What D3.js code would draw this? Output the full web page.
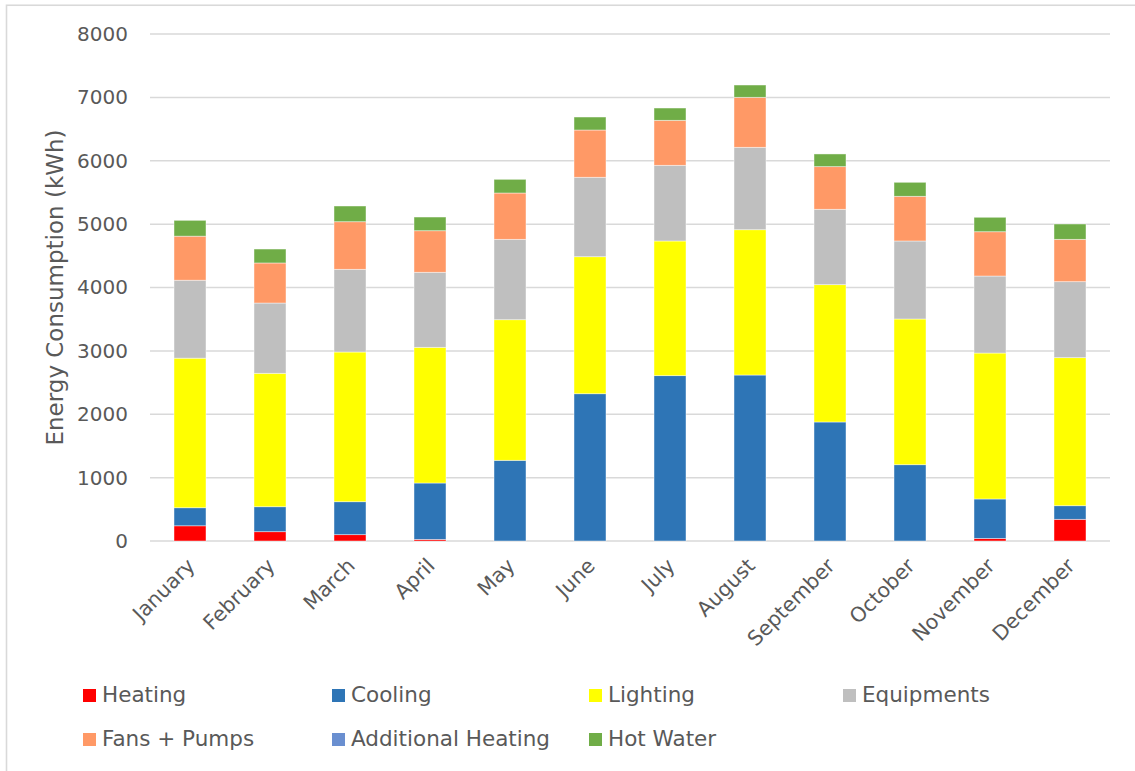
<!DOCTYPE html>
<html>
<head>
<meta charset="utf-8">
<script src="https://cdn.jsdelivr.net/npm/d3@7/dist/d3.min.js"></script>
<style>
  html, body { margin: 0; padding: 0; background: #fff; }
  svg { display: block; font-family: "DejaVu Sans", Verdana, sans-serif; }
</style>
</head>
<body>
<svg id="chart" width="1135" height="771"></svg>
<script>
// Monthly energy consumption by end use (kWh)
const months = ["January", "February", "March", "April", "May", "June",
                "July", "August", "September", "October", "November", "December"];

const heating            = [240, 147, 100, 25, 0, 0, 0, 0, 0, 0, 40, 342];
const cooling            = [285, 394, 520, 890, 1273, 2324, 2609, 2619, 1878, 1204, 623, 215];
const lighting           = [2360, 2105, 2362, 2141, 2219, 2162, 2125, 2293, 2167, 2299, 2303, 2336];
const equipments         = [1230, 1109, 1305, 1184, 1268, 1253, 1194, 1300, 1189, 1231, 1215, 1199];
const fansPumps          = [695, 632, 751, 656, 731, 746, 710, 789, 673, 705, 699, 668];
const additionalHeating  = [0, 0, 0, 0, 0, 0, 0, 0, 0, 0, 0, 0];
const hotWater           = [250, 220, 248, 216, 216, 205, 194, 194, 200, 221, 228, 242];

const seriesNames  = ["Heating", "Cooling", "Lighting", "Equipments", "Fans + Pumps", "Additional Heating", "Hot Water"];
const seriesValues = [heating, cooling, lighting, equipments, fansPumps, additionalHeating, hotWater];
const seriesColors = ["#ff0000", "#2e75b6", "#ffff00", "#bfbfbf", "#ff9966", "#6a8fd0", "#70ad47"];

const yTicks = [0, 1000, 2000, 3000, 4000, 5000, 6000, 7000, 8000];

// Build rows for d3.stack
const rows = months.map((m, i) => {
  const r = { month: m };
  seriesNames.forEach((s, k) => { r[s] = seriesValues[k][i]; });
  return r;
});

const svg = d3.select("#chart");
const W = 1135, H = 771;
const plot = { left: 150, right: 1110, top: 34, bottom: 541 };
const textColor = "#595959";
const gridColor = "#d9d9d9";

// Outer chart frame
svg.append("rect")
  .attr("x", 6.5).attr("y", 5.25)
  .attr("width", W + 10).attr("height", H + 10)
  .attr("fill", "none").attr("stroke", gridColor).attr("stroke-width", 1.6);

const x = d3.scaleBand().domain(months).range([plot.left, plot.right]).paddingInner(0.6).paddingOuter(0.3);
const y = d3.scaleLinear().domain([0, 8000]).range([plot.bottom, plot.top]);

// Gridlines
svg.append("g")
  .selectAll("line").data(yTicks).join("line")
  .attr("x1", plot.left).attr("x2", plot.right)
  .attr("y1", d => y(d)).attr("y2", d => y(d))
  .attr("stroke", gridColor).attr("stroke-width", 1.5);

// Y axis labels
const yAxis = svg.append("g")
  .attr("transform", `translate(${plot.left - 22},0)`)
  .call(d3.axisLeft(y).tickValues(yTicks).tickSize(0).tickPadding(0).tickFormat(d3.format("d")));
yAxis.select(".domain").remove();
yAxis.selectAll("text")
  .attr("fill", textColor).attr("font-size", 20)
  .attr("font-family", "DejaVu Sans, Verdana, sans-serif");

// Y axis title
svg.append("text")
  .attr("transform", `translate(63,${(plot.top + plot.bottom) / 2}) rotate(-90)`)
  .attr("text-anchor", "middle")
  .attr("fill", textColor).attr("font-size", 23)
  .text("Energy Consumption (kWh)");

// Stacked bars
const stack = d3.stack().keys(seriesNames);
const layers = stack(rows);

svg.append("g")
  .selectAll("g").data(layers).join("g")
  .attr("fill", (d, i) => seriesColors[i])
  .selectAll("rect").data(d => d).join("rect")
  .attr("x", d => x(d.data.month))
  .attr("width", x.bandwidth())
  .attr("y", d => y(d[1]))
  .attr("height", d => Math.max(0, y(d[0]) - y(d[1])))
  .attr("stroke", d => (d[1] - d[0]) > 0 ? "rgba(255,255,255,0.55)" : "none")
  .attr("stroke-width", 0.8);

// X axis labels (rotated)
const xAxis = svg.append("g")
  .attr("transform", `translate(0,${plot.bottom})`)
  .call(d3.axisBottom(x).tickSize(0).tickPadding(0));
xAxis.select(".domain").remove();
xAxis.selectAll("text")
  .attr("fill", textColor).attr("font-size", 20.5)
  .attr("font-family", "DejaVu Sans, Verdana, sans-serif")
  .attr("text-anchor", "end")
  .attr("dy", "0.35em")
  .attr("transform", "translate(1,21) rotate(-45)");

// Legend
const legendCols = [83, 332, 589, 843];
const legendRows = [702, 746];
const legend = svg.append("g");
seriesNames.forEach((name, i) => {
  const col = i < 4 ? i : i - 4;
  const row = i < 4 ? 0 : 1;
  const g = legend.append("g")
    .attr("transform", `translate(${legendCols[col]},${legendRows[row]})`);
  g.append("rect")
    .attr("x", 0).attr("y", -13).attr("width", 13).attr("height", 13)
    .attr("fill", seriesColors[i]);
  g.append("text")
    .attr("x", 19).attr("y", 0)
    .attr("fill", textColor).attr("font-size", 21.5)
    .text(name);
});
</script>
</body>
</html>
